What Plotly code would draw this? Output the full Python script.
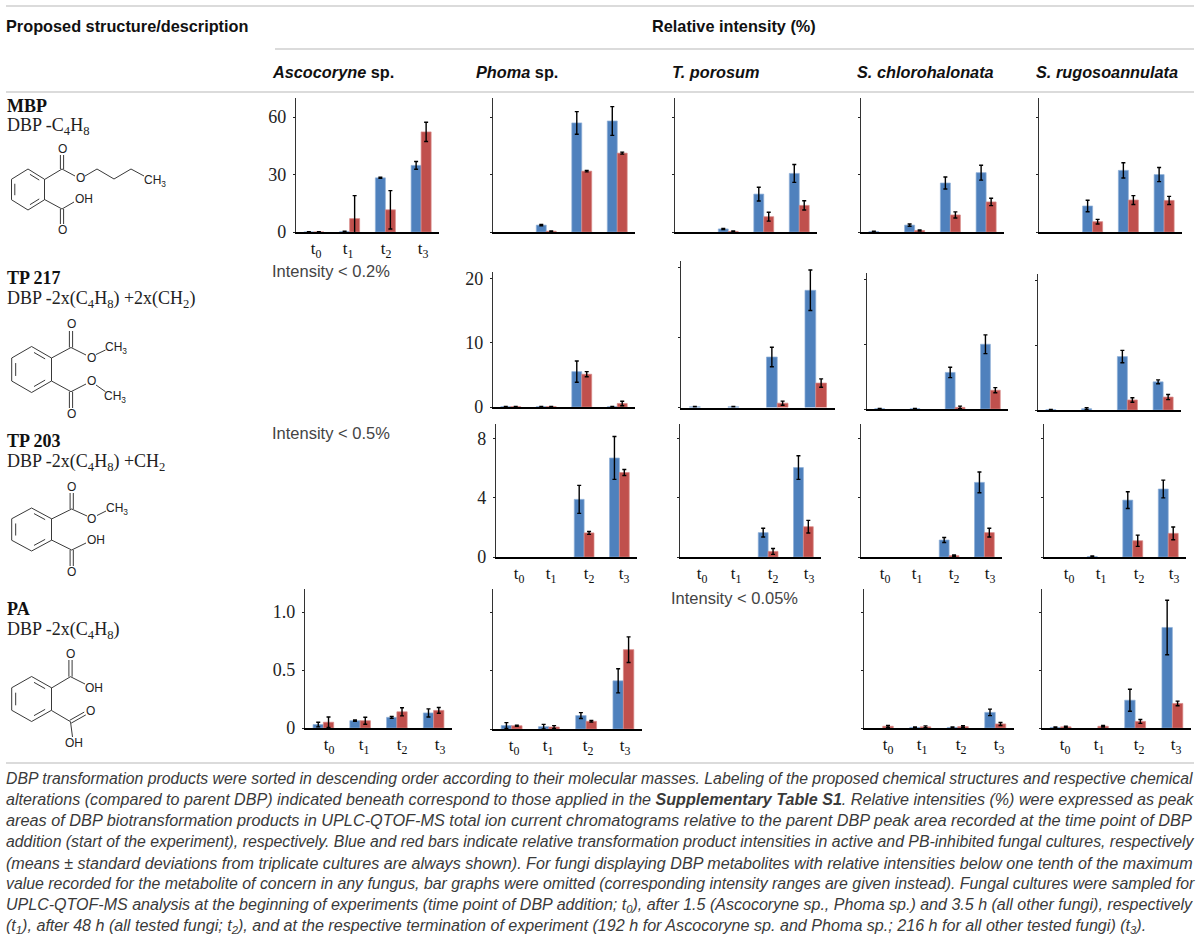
import plotly.graph_objects as go

W, H = 1200, 941
BLUE, RED = "#4F81BD", "#C0504D"
SERIF, SANS = "Liberation Serif", "Liberation Sans"

fungi = ["Ascocoryne", "Phoma", "T. porosum", "S. chlorohalonata", "S. rugosoannulata"]
time_labels = ["t<sub>0</sub>", "t<sub>1</sub>", "t<sub>2</sub>", "t<sub>3</sub>"]

# values per fungus, t0..t3 (None = nothing drawn)
mbp_active = [[0, 0.2, 28.3, 34.8], [None, 3.6, 57, 58], [None, 1.6, 19.8, 30.6], [0.2, 3.6, 25.6, 31], [None, 13.6, 32.2, 30]]
mbp_active_sd = [[0.2, 0.2, 0.3, 2], [None, 0.3, 5.9, 7.5], [None, 0.3, 3.6, 4.7], [0.2, 0.6, 3.1, 3.9], [None, 3, 4, 3.7]]
mbp_inhib = [[0, 7, 11.6, 52.3], [None, 0.4, 31.8, 41.2], [None, 0.3, 8, 13.9], [None, 0.8, 8.9, 15.7], [None, 5.4, 16.7, 16.5]]
mbp_inhib_sd = [[0.2, 12, 10, 5], [None, 0.2, 0.4, 0.5], [None, 0.2, 2.3, 2.4], [None, 0.3, 1.6, 1.9], [None, 1.2, 2.3, 2.1]]

tp217_active = [None, [0.05, 0.05, 5.5, 0.05], [0.1, 0.1, 7.24, 16.8], [0.05, 0.05, 5.65, 10], [0.05, 0.2, 8.25, 4.35]]
tp217_active_sd = [None, [0.05, 0.05, 1.65, 0.03], [0.05, 0.05, 1.4, 2.9], [0.05, 0.05, 0.8, 1.45], [0.05, 0.15, 0.95, 0.3]]
tp217_inhib = [None, [0.05, 0.05, 5.1, 0.55], [None, None, 0.62, 3.5], [None, None, 0.25, 2.9], [None, None, 1.55, 2]]
tp217_inhib_sd = [None, [0.05, 0.05, 0.4, 0.35], [None, None, 0.3, 0.6], [None, None, 0.2, 0.4], [None, None, 0.35, 0.4]]

tp203_active = [None, [None, None, 3.9, 6.7], [None, None, 1.65, 6.05], [None, None, 1.15, 5.05], [None, 0.03, 3.85, 4.6]]
tp203_active_sd = [None, [None, None, 0.95, 1.45], [None, None, 0.3, 0.8], [None, None, 0.17, 0.7], [None, 0.04, 0.57, 0.6]]
tp203_inhib = [None, [None, None, 1.63, 5.72], [None, None, 0.38, 2.05], [None, None, 0.09, 1.65], [None, None, 1.1, 1.6]]
tp203_inhib_sd = [None, [None, None, 0.1, 0.2], [None, None, 0.2, 0.43], [None, None, 0.05, 0.3], [None, None, 0.38, 0.43]]

pa_active = [[0.03, 0.063, 0.092, 0.13], [0.03, 0.02, 0.115, 0.413], None, [None, 0.005, 0.005, 0.135], [0.005, None, 0.24, 0.868]]
pa_active_sd = [[0.02, 0.006, 0.008, 0.035], [0.025, 0.02, 0.025, 0.103], None, [None, 0.003, 0.005, 0.028], [0.005, None, 0.095, 0.235]]
pa_inhib = [[0.05, 0.063, 0.14, 0.152], [0.028, 0.017, 0.066, 0.68], None, [0.015, 0.01, 0.012, 0.035], [0.01, 0.015, 0.057, 0.212]]
pa_inhib_sd = [[0.045, 0.03, 0.035, 0.025], [0.005, 0.012, 0.007, 0.11], None, [0.008, 0.008, 0.008, 0.013], [0.006, 0.006, 0.017, 0.02]]

rows = [
    (mbp_active, mbp_active_sd, mbp_inhib, mbp_inhib_sd, 70, [0, 30, 60], ["0", "30", "60"]),
    (tp217_active, tp217_active_sd, tp217_inhib, tp217_inhib_sd, 21, [0, 10, 20], ["0", "10", "20"]),
    (tp203_active, tp203_active_sd, tp203_inhib, tp203_inhib_sd, 9, [0, 4, 8], ["0", "4", "8"]),
    (pa_active, pa_active_sd, pa_inhib, pa_inhib_sd, 1.2, [0, 0.5, 1.0], ["0", "0.5", "1.0"]),
]

# panel frames in page pixels: left, right, top, baseline, label px (or None), y labels shown
frames = [
    [(296, 439, 98, 232, (316, 348, 386, 423), True), (493, 635, 98, 232, None, False), (675, 817, 98, 232, None, False),
     (861, 1004, 98, 232, None, False), (1039, 1182, 98, 232, None, False)],
    [None, (493, 635, 272, 407, None, True), (681, 835, 261, 407.5, None, False),
     (867, 1008, 273, 409, None, False), (1038, 1181, 274, 410, None, False)],
    [None, (496, 637, 424, 557, (519, 551, 589, 624), True), (680, 821, 424, 557, (702, 736, 773, 809), False),
     (861, 1002, 424, 557, (885, 917, 954, 990), False), (1044, 1186, 424, 557, (1069, 1101, 1139, 1174), False)],
    [(305, 452, 589, 728, (329, 364, 402, 440), True), (493, 642, 589, 729, (514, 548, 588, 625), False), None,
     (864, 1014, 589, 728, (888, 922, 961, 999), False), (1042, 1191, 589, 728, (1065, 1099, 1139, 1176), False)],
]


def px(x):
    return x / W


def py(y):
    return 1 - y / H


fig = go.Figure()
layout = {}
n = 0
for r, (act, act_sd, inh, inh_sd, ymax, yt, ytt) in enumerate(rows):
    for c in range(5):
        fr = frames[r][c]
        if fr is None:
            continue
        n += 1
        L, R, T, B, labs, ylab = fr
        xa, ya = f"x{n}", f"y{n}"
        for vals, sd, col, edge in [(act[c], act_sd[c], BLUE, "#8FB0D8"), (inh[c], inh_sd[c], RED, "#D98A88")]:
            fig.add_trace(go.Bar(
                x=[0, 1, 2, 3], y=vals, xaxis=xa, yaxis=ya, showlegend=False,
                marker=dict(color=col, line=dict(color=edge, width=0.7)),
                error_y=dict(type="data", array=sd, color="#000000", thickness=1.4, width=2),
            ))
        xax = dict(domain=[px(L), px(R)], range=[-0.5, 3.5], anchor=ya, showgrid=False, zeroline=False,
                   showline=True, linecolor="#000000", linewidth=1.5, ticks="",
                   showticklabels=labs is not None, tickfont=dict(family=SERIF, size=17, color="#111111"))
        if labs:
            xax["tickmode"] = "array"
            xax["tickvals"] = [(p - L) / (R - L) * 4 - 0.5 for p in labs]
            xax["ticktext"] = time_labels
        yax = dict(domain=[py(B), py(T)], range=[0, ymax], anchor=xa, showgrid=False, zeroline=False,
                   showline=True, linecolor="#333333", linewidth=1.1, ticks="outside", ticklen=2, tickwidth=1,
                   tickcolor="#222222", tickmode="array", tickvals=yt, ticktext=ytt, showticklabels=ylab,
                   ticklabelstandoff=3, tickfont=dict(family=SERIF, size=18, color="#222222"))
        layout["xaxis" + ("" if n == 1 else str(n))] = xax
        layout["yaxis" + ("" if n == 1 else str(n))] = yax

annots = []


def ann(x, y, text, size, family=SANS, color="#111111", anchor="left"):
    annots.append(dict(x=px(x), y=py(y), xref="paper", yref="paper", text=text, showarrow=False, xanchor=anchor,
                       yanchor="middle", align="left", borderpad=0, font=dict(family=family, size=size, color=color)))


shapes = []


def seg(x0, y0, x1, y1, color="#222222", w=0.9):
    shapes.append(dict(type="line", xref="paper", yref="paper", x0=px(x0), y0=py(y0), x1=px(x1), y1=py(y1),
                       line=dict(color=color, width=w)))


# table rules
for x0, x1, y in [(6, 1194, 6), (275, 1194, 49), (6, 1194, 92), (6, 1194, 763)]:
    seg(x0, y, x1, y, "#cfcfcf", 1.6)

# headers
ann(5, 26, "<b>Proposed structure/description</b>", 16.3)
ann(651, 26, "<b>Relative intensity (%)</b>", 16.3)
for x, t in [(271, "<b><i>Ascocoryne</i> sp.</b>"), (475, "<b><i>Phoma</i> sp.</b>"), (671, "<b><i>T. porosum</i></b>"),
             (856, "<b><i>S. chlorohalonata</i></b>"), (1035, "<b><i>S. rugosoannulata</i></b>")]:
    ann(x, 72, t, 16.3)

# row labels
for y0, name, desc in [
    (106, "MBP", "DBP -C<sub>4</sub>H<sub>8</sub>"),
    (278, "TP 217", "DBP -2x(C<sub>4</sub>H<sub>8</sub>) +2x(CH<sub>2</sub>)"),
    (441, "TP 203", "DBP -2x(C<sub>4</sub>H<sub>8</sub>) +CH<sub>2</sub>"),
    (609, "PA", "DBP -2x(C<sub>4</sub>H<sub>8</sub>)"),
]:
    ann(6, y0, f"<b>{name}</b>", 18, SERIF)
    ann(6, y0 + 21, desc, 18, SERIF, "#222222")

for x, y, t in [(271, 271, "Intensity &lt; 0.2%"), (271, 433, "Intensity &lt; 0.5%"), (670, 598, "Intensity &lt; 0.05%")]:
    ann(x, y, t, 16.5, SANS, "#444444")


# chemical structures
def ring(cx, cy, rx, ry):
    pts = [(cx, cy - ry), (cx + rx, cy - ry * 0.5), (cx + rx, cy + ry * 0.5), (cx, cy + ry), (cx - rx, cy + ry * 0.5),
           (cx - rx, cy - ry * 0.5)]
    for i in range(6):
        seg(*pts[i], *pts[(i + 1) % 6])
    for i in (0, 2, 4):
        a, b = pts[i], pts[(i + 1) % 6]
        ax = a[0] + (cx - a[0]) * 0.2 + (b[0] - a[0]) * 0.12
        ay = a[1] + (cy - a[1]) * 0.2 + (b[1] - a[1]) * 0.12
        bx = b[0] + (cx - b[0]) * 0.2 + (a[0] - b[0]) * 0.12
        by = b[1] + (cy - b[1]) * 0.2 + (a[1] - b[1]) * 0.12
        seg(ax, ay, bx, by)


def dbl(x0, y0, x1, y1, d=1.6):
    dx, dy = x1 - x0, y1 - y0
    ln = (dx * dx + dy * dy) ** 0.5
    nx, ny = -dy / ln * d, dx / ln * d
    seg(x0 + nx, y0 + ny, x1 + nx, y1 + ny)
    seg(x0 - nx, y0 - ny, x1 - nx, y1 - ny)


def atom(x, y, t):
    ann(x, y, t, 12, SANS, "#222222", "center")


# MBP
ring(28, 189.5, 16.5, 20.5)
seg(44.5, 179.5, 62, 169)
dbl(62, 169, 62, 155)
atom(62.5, 149, "O")
seg(62, 169, 75, 176)
atom(80, 178.5, "O")
seg(85, 176, 97, 169)
seg(97, 169, 114, 179)
seg(114, 179, 131, 169)
seg(131, 169, 144, 176)
atom(155, 181, "CH<sub>3</sub>")
seg(44.5, 199.5, 62, 209)
dbl(62, 209, 62, 224)
atom(62.5, 230, "O")
seg(62, 209, 74, 202)
atom(84, 199, "OH")

# TP 217
ring(31.6, 369.5, 19.9, 23)
seg(51.5, 358, 71, 347.5)
dbl(71, 347.5, 71, 331)
atom(71, 324.5, "O")
seg(71, 347.5, 86, 355)
atom(91, 358, "O")
seg(96, 354.5, 105.5, 350)
atom(116, 348, "CH<sub>3</sub>")
seg(51.5, 381, 71, 391.7)
dbl(71, 391.7, 71, 408)
atom(71, 414.5, "O")
seg(71, 391.7, 86, 384)
atom(91, 381, "O")
seg(96, 385, 105.5, 391.7)
atom(115, 397, "CH<sub>3</sub>")

# TP 203
ring(31.6, 529.5, 19.9, 21.5)
seg(51.5, 519, 71.7, 509)
dbl(71.7, 509, 71.7, 493)
atom(71.7, 487.3, "O")
seg(71.7, 509, 87, 516)
atom(91.6, 519, "O")
seg(97, 515.5, 106, 511)
atom(117, 509, "CH<sub>3</sub>")
seg(51.5, 540, 71.7, 550)
dbl(71.7, 550, 71.7, 566)
atom(71.7, 571.7, "O")
seg(71.7, 550, 86, 543)
atom(96, 540, "OH")

# PA
ring(31.6, 699, 19.9, 22.5)
seg(51.5, 688, 70.5, 676.7)
dbl(70.5, 676.7, 70.5, 660)
atom(70.5, 654, "O")
seg(70.5, 676.7, 85, 684)
atom(93.7, 688, "OH")
seg(51.5, 710.5, 70.5, 721.7)
dbl(70.5, 721.7, 85, 713.5)
atom(90, 710.5, "O")
seg(70.5, 721.7, 72.5, 737)
atom(74, 743.3, "OH")

# caption
caption_lines = [
    "DBP transformation products were sorted in descending order according to their molecular masses. Labeling of the proposed chemical structures and respective chemical",
    "alterations (compared to parent DBP) indicated beneath correspond to those applied in the <b>Supplementary Table S1</b>. Relative intensities (%) were expressed as peak",
    "areas of DBP biotransformation products in UPLC-QTOF-MS total ion current chromatograms relative to the parent DBP peak area recorded at the time point of DBP",
    "addition (start of the experiment), respectively. Blue and red bars indicate relative transformation product intensities in active and PB-inhibited fungal cultures, respectively",
    "(means ± standard deviations from triplicate cultures are always shown). For fungi displaying DBP metabolites with relative intensities below one tenth of the maximum",
    "value recorded for the metabolite of concern in any fungus, bar graphs were omitted (corresponding intensity ranges are given instead). Fungal cultures were sampled for",
    "UPLC-QTOF-MS analysis at the beginning of experiments (time point of DBP addition; t<sub>0</sub>), after 1.5 (Ascocoryne sp., Phoma sp.) and 3.5 h (all other fungi), respectively",
    "(t<sub>1</sub>), after 48 h (all tested fungi; t<sub>2</sub>), and at the respective termination of experiment (192 h for Ascocoryne sp. and Phoma sp.; 216 h for all other tested fungi) (t<sub>3</sub>).",
]
caption_size = [15.81, 16.10, 16.30, 15.83, 16.13, 15.86, 16.05, 16.11]
for i, line in enumerate(caption_lines):
    ann(5, 778.3 + i * 21.05, f"<i>{line}</i>", caption_size[i], SANS, "#3a3a3a")

fig.update_layout(
    width=W, height=H, margin=dict(l=0, r=0, t=0, b=0, autoexpand=False), paper_bgcolor="white", plot_bgcolor="rgba(0,0,0,0)",
    barmode="group", bargap=0.44, bargroupgap=0, showlegend=False, annotations=annots, shapes=shapes, **layout,
)
fig.write_html("out.html", config={"displayModeBar": False},
               post_script="document.body.style.margin='0';document.documentElement.style.overflow='hidden';")
